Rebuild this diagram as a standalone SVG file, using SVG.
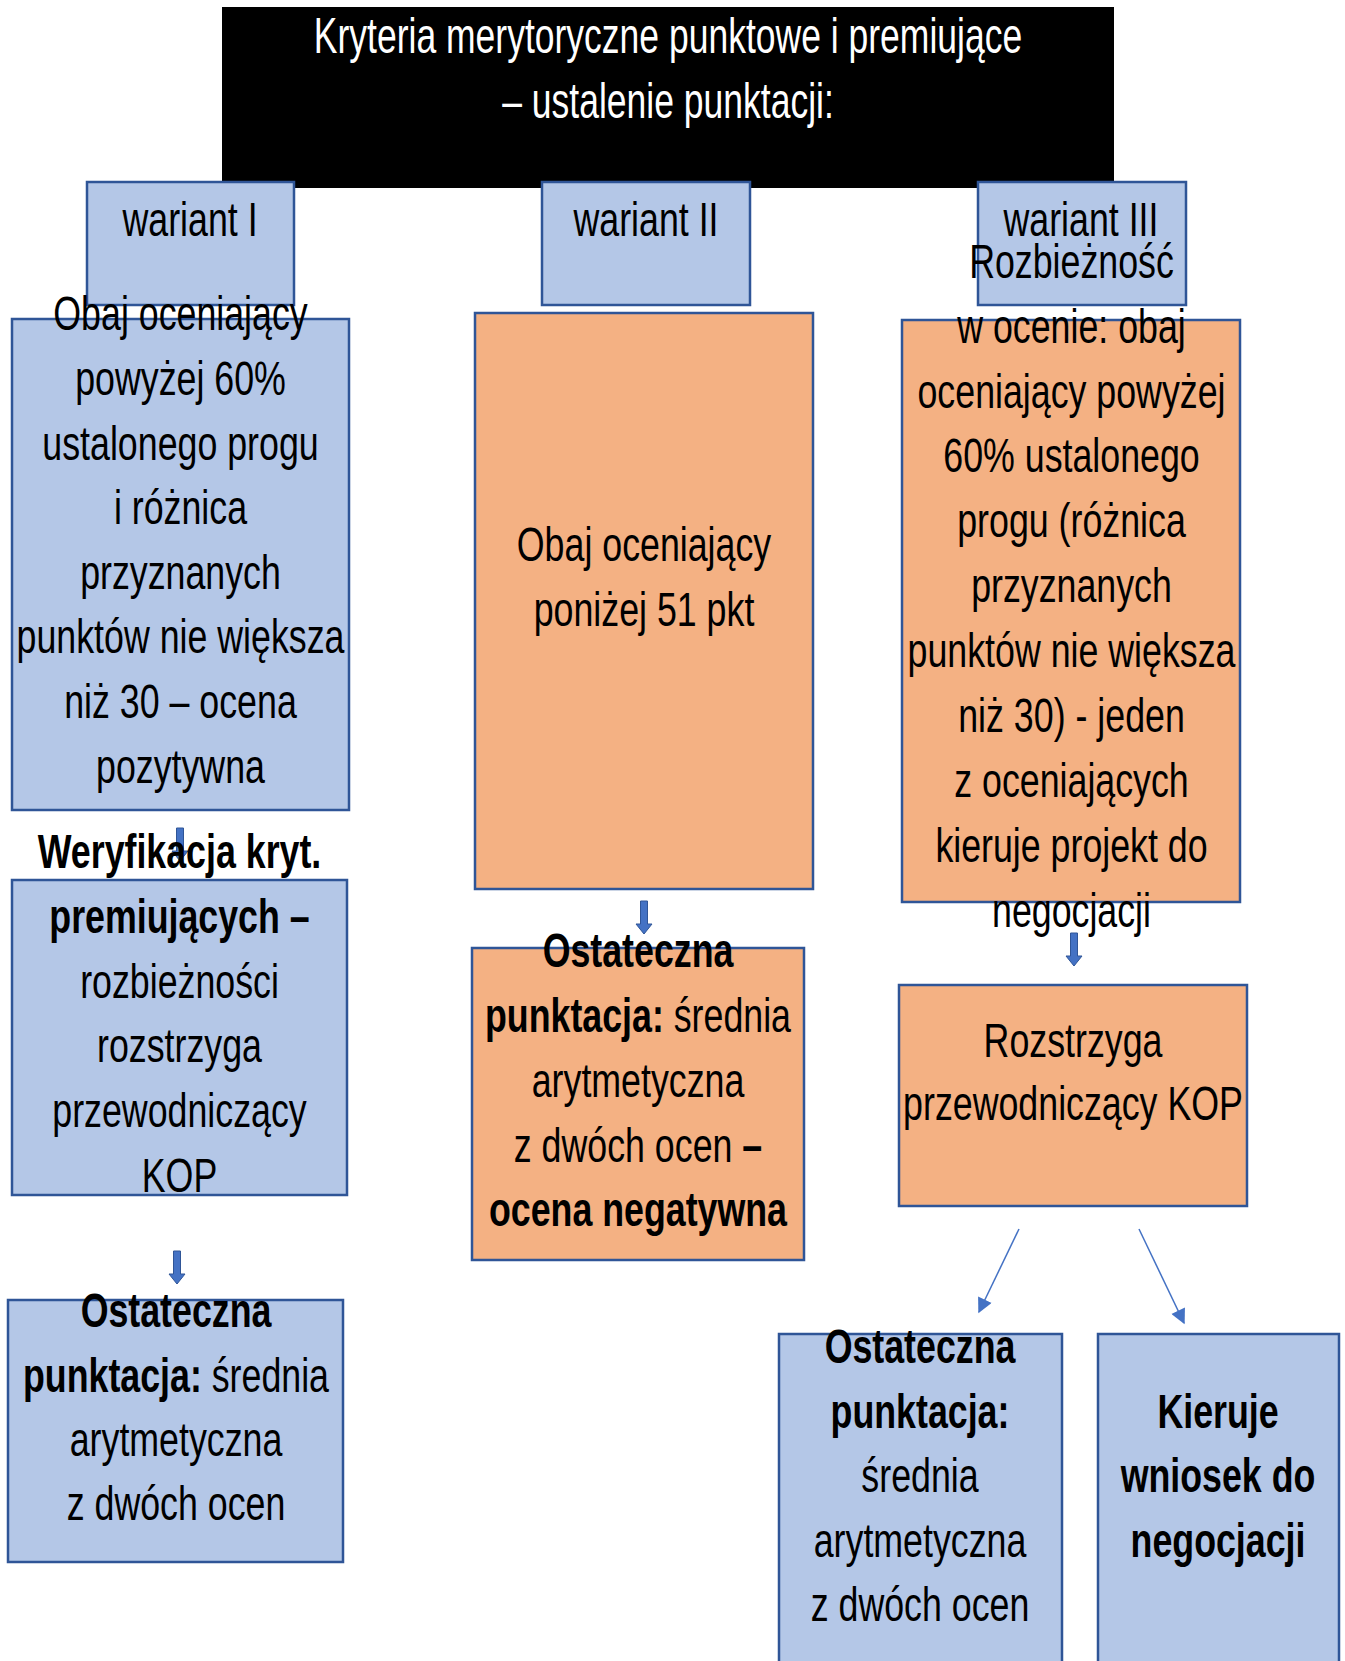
<svg xmlns="http://www.w3.org/2000/svg" width="1345" height="1661" viewBox="0 0 1345 1661">
<defs>
<style>
.bg{fill:#FFFFFF}
.blue{fill:#B4C7E7;stroke:#2F5597;stroke-width:2.5}
.orange{fill:#F4B183;stroke:#2F5597;stroke-width:2.5}
.t{font-family:"Liberation Sans",Arial,sans-serif;font-size:49px;text-anchor:middle;fill:#000}
.w{fill:#FFFFFF;font-size:50px}
.b{font-weight:bold}
.blk{fill:#4472C4;stroke:#2F5597;stroke-width:1}
.thin{stroke:#4472C4;stroke-width:1.5;fill:none}
</style>
<path id="barrow" d="M-3.5,0 H3.5 V23 H8 L0,33 L-8,23 H-3.5 Z"/>
<marker id="tri" viewBox="0 0 10 10" refX="9" refY="5" markerWidth="10" markerHeight="10" markerUnits="userSpaceOnUse" orient="auto">
<path d="M0,0 L10,5 L0,10 Z" fill="#4472C4"/>
</marker>
<marker id="tri2" viewBox="0 0 10 10" refX="9" refY="5" markerWidth="16" markerHeight="15" markerUnits="userSpaceOnUse" orient="auto">
<path d="M0,0 L10,5 L0,10 Z" fill="#4472C4"/>
</marker>
</defs>
<rect class="bg" x="0" y="0" width="1345" height="1661"/>

<g id="connectors">
<use href="#barrow" class="blk" x="180" y="828"/>
<use href="#barrow" class="blk" x="177" y="1251"/>
<use href="#barrow" class="blk" x="644" y="901"/>
<use href="#barrow" class="blk" x="1074" y="933"/>
<line class="thin" x1="1019" y1="1229" x2="979" y2="1312" marker-end="url(#tri2)"/>
<line class="thin" x1="1139" y1="1229" x2="1184" y2="1323" marker-end="url(#tri2)"/>
</g>

<g id="title">
<rect x="222" y="7" width="892" height="181" fill="#000"/>
<g transform="translate(668 0) scale(0.71 1)">
<text class="t w" x="0" y="53">Kryteria merytoryczne punktowe i premiujące</text>
<text class="t w" x="0" y="118">– ustalenie punktacji:</text>
</g>
</g>

<g id="wariant1">
<rect class="blue" x="87" y="182" width="207" height="123"/>
<g transform="translate(190 0) scale(0.73 1)"><text class="t" x="0" y="236">wariant I</text></g>
</g>
<g id="wariant2">
<rect class="blue" x="542" y="182" width="208" height="123"/>
<g transform="translate(646 0) scale(0.73 1)"><text class="t" x="0" y="236">wariant II</text></g>
</g>
<g id="wariant3">
<rect class="blue" x="978" y="182" width="208" height="123"/>
<g transform="translate(1081 0) scale(0.73 1)"><text class="t" x="0" y="236">wariant III</text></g>
</g>

<g id="left1">
<rect class="blue" x="12" y="319" width="337" height="491"/>
<g transform="translate(180.5 0) scale(0.73 1)">
<text class="t" x="0" y="330">Obaj oceniający</text>
<text class="t" x="0" y="395">powyżej 60%</text>
<text class="t" x="0" y="460">ustalonego progu</text>
<text class="t" x="0" y="524">i różnica</text>
<text class="t" x="0" y="589">przyznanych</text>
<text class="t" x="0" y="653">punktów nie większa</text>
<text class="t" x="0" y="718">niż 30 – ocena</text>
<text class="t" x="0" y="783">pozytywna</text>
</g>
</g>

<g id="left2">
<rect class="blue" x="12" y="880" width="335" height="315"/>
<g transform="translate(179.5 0) scale(0.73 1)">
<text class="t b" x="0" y="868">Weryfikacja kryt.</text>
<text class="t b" x="0" y="933">premiujących –</text>
<text class="t" x="0" y="998">rozbieżności</text>
<text class="t" x="0" y="1062">rozstrzyga</text>
<text class="t" x="0" y="1127">przewodniczący</text>
<text class="t" x="0" y="1192">KOP</text>
</g>
</g>

<g id="left3">
<rect class="blue" x="8" y="1300" width="335" height="262"/>
<g transform="translate(176 0) scale(0.73 1)">
<text class="t b" x="0" y="1327">Ostateczna</text>
<text class="t" x="0" y="1392"><tspan class="b">punktacja:</tspan> średnia</text>
<text class="t" x="0" y="1456">arytmetyczna</text>
<text class="t" x="0" y="1520">z dwóch ocen</text>
</g>
</g>

<g id="mid1">
<rect class="orange" x="475" y="313" width="338" height="576"/>
<g transform="translate(644 0) scale(0.73 1)">
<text class="t" x="0" y="561">Obaj oceniający</text>
<text class="t" x="0" y="626">poniżej 51 pkt</text>
</g>
</g>

<g id="mid2">
<rect class="orange" x="472" y="948" width="332" height="312"/>
<g transform="translate(638 0) scale(0.73 1)">
<text class="t b" x="0" y="967">Ostateczna</text>
<text class="t" x="0" y="1032"><tspan class="b">punktacja:</tspan> średnia</text>
<text class="t" x="0" y="1097">arytmetyczna</text>
<text class="t" x="0" y="1162">z dwóch ocen <tspan class="b">–</tspan></text>
<text class="t b" x="0" y="1226">ocena negatywna</text>
</g>
</g>

<g id="right1">
<rect class="orange" x="902" y="320" width="338" height="582"/>
<g transform="translate(1071.5 0) scale(0.73 1)">
<text class="t" x="0" y="278">Rozbieżność</text>
<text class="t" x="0" y="343">w ocenie: obaj</text>
<text class="t" x="0" y="408">oceniający powyżej</text>
<text class="t" x="0" y="472">60% ustalonego</text>
<text class="t" x="0" y="537">progu (różnica</text>
<text class="t" x="0" y="602">przyznanych</text>
<text class="t" x="0" y="667">punktów nie większa</text>
<text class="t" x="0" y="732">niż 30) - jeden</text>
<text class="t" x="0" y="797">z oceniających</text>
<text class="t" x="0" y="862">kieruje projekt do</text>
<text class="t" x="0" y="927">negocjacji</text>
</g>
</g>

<g id="right2">
<rect class="orange" x="899" y="985" width="348" height="221"/>
<g transform="translate(1073 0) scale(0.73 1)">
<text class="t" x="0" y="1057">Rozstrzyga</text>
<text class="t" x="0" y="1120">przewodniczący KOP</text>
</g>
</g>

<g id="right3a">
<rect class="blue" x="779" y="1334" width="283" height="340"/>
<g transform="translate(920 0) scale(0.73 1)">
<text class="t b" x="0" y="1363">Ostateczna</text>
<text class="t b" x="0" y="1428">punktacja:</text>
<text class="t" x="0" y="1492">średnia</text>
<text class="t" x="0" y="1557">arytmetyczna</text>
<text class="t" x="0" y="1621">z dwóch ocen</text>
</g>
</g>

<g id="right3b">
<rect class="blue" x="1098" y="1334" width="241" height="340"/>
<g transform="translate(1218 0) scale(0.73 1)">
<text class="t b" x="0" y="1428">Kieruje</text>
<text class="t b" x="0" y="1492">wniosek do</text>
<text class="t b" x="0" y="1557">negocjacji</text>
</g>
</g>
</svg>
